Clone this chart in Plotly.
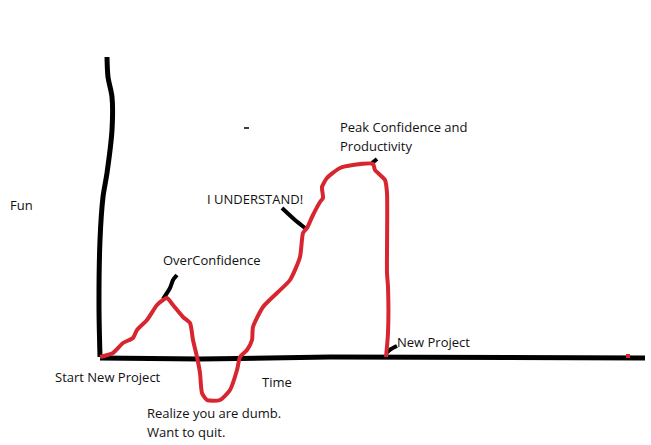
import plotly.graph_objects as go

# Red "fun" curve: time (x) vs fun (y, 0 = baseline)
time_vals = [100, 113, 123, 133, 137, 147, 157, 163, 167, 173, 183, 190, 193, 197, 200, 202,
             207, 220, 230, 237, 240, 247, 252, 253, 263, 277, 290, 300, 303, 307, 313,
             320, 323, 322, 327, 340, 353, 373, 375, 385, 387, 387, 388, 388, 386]
fun_vals = [0, 4, 14, 19, 27, 37, 52, 57, 59, 52, 40, 34, 17, 0, -16, -36,
            -43, -43, -33, -13, 0, 7, 17, 30, 50, 64, 77, 100, 124, 129, 142,
            155, 159, 170, 179, 189, 192, 193, 187, 177, 164, 84, 70, 24, 0]

# Hand-drawn axes
yaxis_x = [107, 108, 112, 112, 107, 103, 100, 99, 100]
yaxis_y = [300, 280, 260, 227, 184, 160, 117, 50, 0]
xaxis_x = [100, 200, 330, 480, 645]
xaxis_y = [-1, -2, 0, 0, -1]

# Leader lines (x list, y list)
leaders = {
    "OverConfidence": ([163, 170, 173, 177], [58, 69, 77, 82]),
    "I UNDERSTAND!": ([282, 295, 305], [149, 137, 129]),
    "Peak": ([372, 377], [194, 198]),
    "New Project": ([386, 391, 397], [4, 8, 11]),
}

# Labels: (text, x, y)
labels = [
    ("Fun", 8, 152),
    ("OverConfidence", 161, 97),
    ("I UNDERSTAND!", 205, 158),
    ("Peak Confidence and", 338, 230),
    ("Productivity", 338, 211),
    ("New Project", 395, 15),
    ("Start New Project", 53, -20),
    ("Time", 260, -25),
    ("Realize you are dumb.", 145, -56),
    ("Want to quit.", 145, -75),
]

fig = go.Figure()
fig.add_trace(go.Scatter(x=yaxis_x, y=yaxis_y, mode="lines",
                         line=dict(color="black", width=5, shape="spline", smoothing=0.8),
                         hoverinfo="skip"))
fig.add_trace(go.Scatter(x=xaxis_x, y=xaxis_y, mode="lines",
                         line=dict(color="black", width=5), hoverinfo="skip"))
for name, (lx, ly) in leaders.items():
    fig.add_trace(go.Scatter(x=lx, y=ly, mode="lines",
                             line=dict(color="black", width=4, shape="spline", smoothing=0.6),
                             hoverinfo="skip"))
fig.add_trace(go.Scatter(x=time_vals, y=fun_vals, mode="lines",
                         line=dict(color="#d7262f", width=4, shape="spline", smoothing=0.6),
                         hoverinfo="skip"))
fig.add_trace(go.Scatter(x=[628], y=[1], mode="markers",
                         marker=dict(color="#d7262f", size=4, symbol="square"), hoverinfo="skip"))
# small stray dash
fig.add_trace(go.Scatter(x=[244, 249], y=[229, 229], mode="lines",
                         line=dict(color="black", width=1.5), hoverinfo="skip"))

for text, x, y in labels:
    fig.add_annotation(x=x, y=y, text=text, showarrow=False, xanchor="left", yanchor="middle",
                       font=dict(family="Open Sans", size=13, color="#111111"))

fig.update_layout(
    width=651, height=445, margin=dict(l=0, r=0, t=0, b=0),
    paper_bgcolor="white", plot_bgcolor="white", showlegend=False,
    xaxis=dict(range=[0, 651], visible=False, fixedrange=True),
    yaxis=dict(range=[-88, 357], visible=False, fixedrange=True),
)
fig.write_html("out.html", config={"displayModeBar": False})
